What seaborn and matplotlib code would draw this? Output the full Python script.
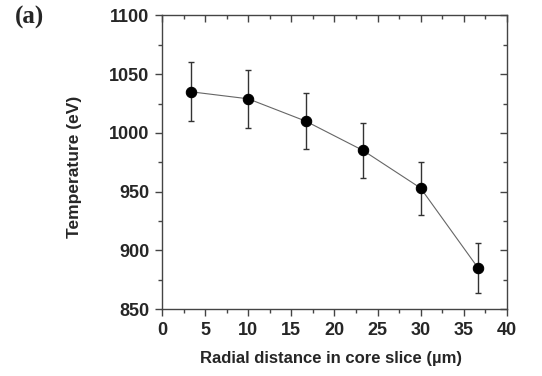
import matplotlib
matplotlib.use("Agg")
import matplotlib.pyplot as plt
import seaborn as sns
import pandas as pd
from matplotlib.ticker import MultipleLocator

radius = [3.33, 10.0, 16.67, 23.33, 30.0, 36.67]
temperature = [1035, 1029, 1010, 985, 953, 885]
error = [25, 24.5, 24, 23.5, 22.5, 21]
x_ticks = [0, 5, 10, 15, 20, 25, 30, 35, 40]
y_ticks = [850, 900, 950, 1000, 1050, 1100]

df = pd.DataFrame({"r": radius, "T": temperature, "err": error})

sns.set_theme(style="ticks")
plt.rcParams['font.family'] = ['Liberation Sans', 'DejaVu Sans']

fig = plt.figure(figsize=(5.42, 3.76), dpi=100)
ax = fig.add_axes([0.299, 0.178, 0.636, 0.781])

ax.errorbar(df["r"], df["T"], yerr=df["err"], fmt="none", ecolor="#333333",
            elinewidth=1.0, capsize=2.5, capthick=1.0, zorder=2)
sns.lineplot(data=df, x="r", y="T", ax=ax, color="#666666", linewidth=0.8,
             marker="o", markersize=7.5, markerfacecolor="black",
             markeredgecolor="black", zorder=3)

ax.set_xlim(0, 40)
ax.set_ylim(850, 1100)
ax.set_xticks(x_ticks)
ax.set_yticks(y_ticks)
ax.xaxis.set_minor_locator(MultipleLocator(2.5))
ax.yaxis.set_minor_locator(MultipleLocator(25))

for s in ax.spines.values():
    s.set_color("#444444")
    s.set_linewidth(1.0)

ax.tick_params(which="both", direction="out", top=False, right=False, color="#444444", width=1.0)
ax.tick_params(which="major", length=5, labelsize=13, pad=4)
ax.tick_params(which="minor", length=3)
for lab in ax.get_xticklabels() + ax.get_yticklabels():
    lab.set_fontweight("bold")

# inward ticks on top and right
secx = ax.secondary_xaxis("top")
secx.set_xticks(x_ticks)
secx.xaxis.set_minor_locator(MultipleLocator(2.5))
secx.tick_params(which="both", direction="in", labeltop=False, color="#444444", width=1.0)
secx.tick_params(which="major", length=5)
secx.tick_params(which="minor", length=3)
secy = ax.secondary_yaxis("right")
secy.set_yticks(y_ticks)
secy.yaxis.set_minor_locator(MultipleLocator(25))
secy.tick_params(which="both", direction="in", labelright=False, color="#444444", width=1.0)
secy.tick_params(which="major", length=5)
secy.tick_params(which="minor", length=3)
for s in list(secx.spines.values()) + list(secy.spines.values()):
    s.set_visible(False)

ax.set_xlabel("Radial distance in core slice (\u00b5m)", fontsize=12, fontweight="bold")
ax.set_ylabel("Temperature (eV)", fontsize=12.5, fontweight="bold")
ax.xaxis.set_label_coords((331 - 162) / 345, -(358 - 309) / 293.6)
ax.yaxis.set_label_coords(-(162 - 74) / 345, (309 - 167) / 293.6)
ax.xaxis.label.set_va("center")
ax.yaxis.label.set_va("center")

fig.text(15 / 542, 1 - 6 / 376, "(a)", fontsize=18, fontweight="bold",
         family=["Liberation Serif", "DejaVu Serif"], va="top", ha="left")

fig.savefig("out.png", dpi=100)
